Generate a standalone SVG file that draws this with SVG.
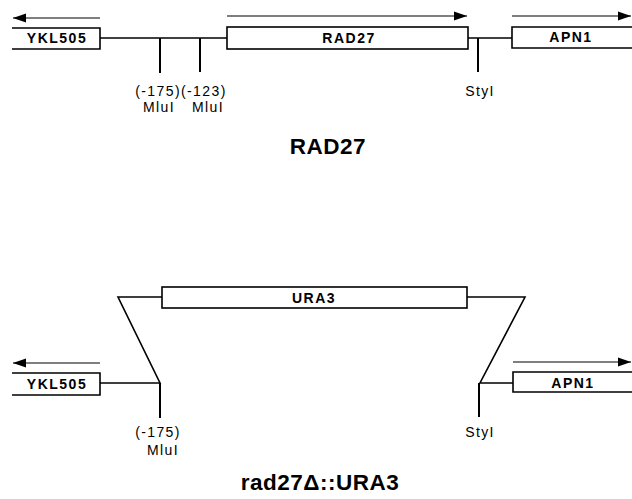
<svg xmlns="http://www.w3.org/2000/svg" width="632" height="499" viewBox="0 0 632 499">
<style>
.ln{fill:none;stroke:#000;stroke-width:1.6}
.tk{fill:none;stroke:#000;stroke-width:2}
.ar{fill:none;stroke:#000;stroke-width:1.2}
.box{fill:#fff;stroke:#000;stroke-width:1.6}
.bl{font-family:"Liberation Sans",Arial,sans-serif;font-weight:bold;font-size:14px;letter-spacing:1.5px;fill:#000;text-anchor:middle}
.lb{font-family:"Liberation Sans",Arial,sans-serif;font-size:14px;letter-spacing:1.4px;fill:#000;text-anchor:middle}
.tt{font-family:"Liberation Sans",Arial,sans-serif;font-weight:bold;font-size:22.5px;letter-spacing:0.5px;fill:#000;text-anchor:middle}
</style>
<defs>
<marker id="ah" markerUnits="userSpaceOnUse" markerWidth="14" markerHeight="10" refX="13" refY="5" orient="auto">
<path d="M0,0.5 L13,5 L0,9.5 Z" fill="#000"/>
</marker>
</defs>

<g id="connectors">
<path class="ln" d="M100,38 H228"/>
<path class="tk" d="M160,38 V73"/>
<path class="tk" d="M200,38 V72"/>
<path class="ln" d="M468,38 H512"/>
<path class="tk" d="M478,38 V72"/>
<path class="ar" d="M100,18 H13" marker-end="url(#ah)"/>
<path class="ar" d="M227,16 H467" marker-end="url(#ah)"/>
<path class="ar" d="M512,16 H631" marker-end="url(#ah)"/>
<path class="ln" d="M162,297 H118 L160,383 H100"/>
<path class="tk" d="M160,383 V418"/>
<path class="ln" d="M467,297 H525 L480,383 H513"/>
<path class="tk" d="M479,383 V417"/>
<path class="ar" d="M100,363 H13" marker-end="url(#ah)"/>
<path class="ar" d="M513,362 H631" marker-end="url(#ah)"/>
</g>

<g id="ykl505-top">
<path class="box" d="M12,28 H100 V49 H12"/>
<text class="bl" x="57" y="43">YKL505</text>
</g>
<g id="rad27-box">
<rect class="box" x="227" y="27" width="241" height="22"/>
<text class="bl" x="349" y="43">RAD27</text>
</g>
<g id="apn1-top">
<path class="box" d="M632,27 H512 V48 H632"/>
<text class="bl" x="571" y="42">APN1</text>
</g>
<g id="labels-top">
<text class="lb" x="181" y="96">(-175)(-123)</text>
<text class="lb" x="159" y="112">MluI</text>
<text class="lb" x="208" y="112">MluI</text>
<text class="lb" x="480" y="96">StyI</text>
</g>
<g id="title-top">
<text class="tt" x="328" y="154">RAD27</text>
</g>

<g id="ura3-box">
<rect class="box" x="162" y="287" width="305" height="21"/>
<text class="bl" x="314" y="303">URA3</text>
</g>
<g id="ykl505-bottom">
<path class="box" d="M12,373 H100 V395 H12"/>
<text class="bl" x="57" y="389">YKL505</text>
</g>
<g id="apn1-bottom">
<path class="box" d="M632,372 H513 V392 H632"/>
<text class="bl" x="573" y="388">APN1</text>
</g>
<g id="labels-bottom">
<text class="lb" x="158" y="437">(-175)</text>
<text class="lb" x="163" y="455">MluI</text>
<text class="lb" x="480" y="437">StyI</text>
</g>
<g id="title-bottom">
<text class="tt" x="320" y="490">rad27Δ::URA3</text>
</g>
</svg>
